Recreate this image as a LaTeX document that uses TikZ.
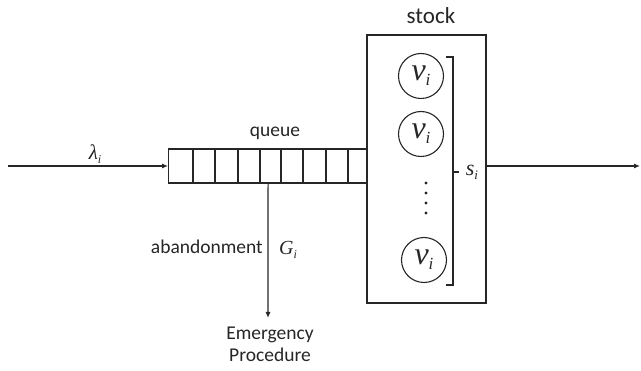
\documentclass[tikz,border=0pt]{standalone}
\usepackage{fontspec}
\setmainfont{Carlito}
\newfontfamily\tmsfont{Liberation Serif}
\usetikzlibrary{arrows.meta}
\definecolor{ink}{HTML}{262626}
\tikzset{
  lbl/.style={font=\fontsize{19.5}{22}\selectfont, text=ink, inner sep=0pt},
  sym/.style={font=\tmsfont\itshape\fontsize{22}{24}\selectfont, text=ink, inner sep=0pt},
  srv/.style={draw=ink, circle, minimum size=45pt, inner sep=0pt, line width=1.1pt,
    font=\tmsfont\itshape\fontsize{32}{34}\selectfont, text=ink},
  conn/.style={draw=ink, line width=1.1pt, -{Latex[length=6pt,width=5pt]}},
  plain/.style={draw=ink, line width=1.1pt}
}
\begin{document}
\begin{tikzpicture}[x=1pt,y=-1pt]
\useasboundingbox (0,0) rectangle (641,371);
% queue
\node[plain, minimum width=199pt, minimum height=34pt, inner sep=0pt, anchor=west] (queue) at (168,166) {};
\foreach \x in {193,215,238,260,281,303,326,348}
  \draw[plain] (\x,149) -- (\x,183);
\node[lbl] (qlbl) at (275,133) {queue};
% stock box
\node[plain, minimum width=119pt, minimum height=268pt, inner sep=0pt] (stock) at (426.5,169) {};
\node[lbl, font=\fontsize{23}{26}\selectfont] (stlbl) at (431,16) {stock};
\node[srv] (v1) at (421,76) {ν\raisebox{-5pt}{\fontsize{17}{18}\selectfont\itshape i}};
\node[srv] (v2) at (421,134) {ν\raisebox{-5pt}{\fontsize{17}{18}\selectfont\itshape i}};
\node[srv] (v3) at (424,260) {ν\raisebox{-5pt}{\fontsize{17}{18}\selectfont\itshape i}};
\foreach \y in {183,193,203,213}
  \fill[ink] (426,\y) circle (1.7pt);
% bracket
\draw[plain] (446,57) -- (453,57) -- (453,285) -- (446,285);
\draw[plain] (453,172) -- (459,172);
\node[sym] (si) at (472,172) {s\raisebox{-4pt}{\fontsize{13}{14}\selectfont i}};
% input
\coordinate (in) at (8,166);
\draw[conn] (in) -- (queue.west);
\node[sym, font=\tmsfont\itshape\fontsize{21}{22}\selectfont] (lam) at (95,154) {λ\raisebox{-4pt}{\fontsize{12}{13}\selectfont i}};
% output
\coordinate (out) at (640,166);
\draw[conn] (stock.east |- out) -- (out);
% abandonment
\coordinate (ab) at (268,318);
\draw[conn] (queue.south) -- (ab);
\node[lbl, anchor=east] (abl) at (263,247) {abandonment};
\node[sym, font=\tmsfont\itshape\fontsize{20}{22}\selectfont] (G) at (288,250) {G\raisebox{-4pt}{\fontsize{12}{13}\selectfont i}};
\node[lbl, align=center, font=\fontsize{19.5}{22}\selectfont] (emer) at (270,344) {Emergency\\Procedure};
\end{tikzpicture}
\end{document}
